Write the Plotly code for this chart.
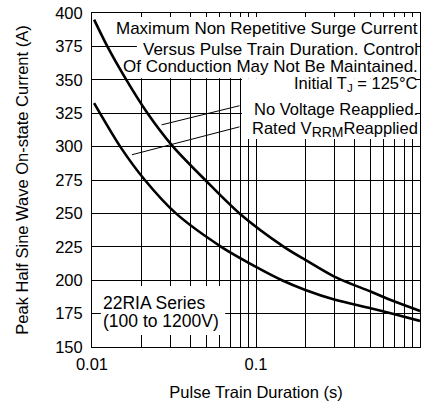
import plotly.graph_objects as go

# ---- data ----
pulse_no_voltage = [0.0103, 0.0124, 0.0162, 0.0218, 0.0312, 0.049, 0.0793, 0.148, 0.2, 0.3, 0.5, 0.7, 1.0]
current_no_voltage = [395, 375, 350, 325, 300, 275, 250, 225, 215.2, 202.7, 191.5, 184, 177]

pulse_rated_vrrm = [0.0103, 0.01486, 0.021, 0.0325, 0.0614, 0.1, 0.144, 0.2, 0.3, 0.5, 0.7, 1.0]
current_rated_vrrm = [332.5, 300, 275, 250, 225, 210, 200, 192.7, 185.5, 179, 174.5, 169.5]

# leader lines from labels to curves
leader_nv_x = [0.0266, 0.0793]
leader_nv_y = [316.3, 330.6]
leader_rv_x = [0.0175, 0.0793]
leader_rv_y = [293.9, 314.8]

x_tick_vals = [0.01, 0.1, 1]
x_tick_text = ["0.01", "0.1", "1"]
x_minor_vals = [m * d for d in (0.01, 0.1) for m in range(2, 10)]
y_tick_vals = [150, 175, 200, 225, 250, 275, 300, 325, 350, 375, 400]

title_lines = [
    "Maximum Non Repetitive Surge Current",
    "Versus Pulse Train Duration. Control",
    "Of Conduction May Not Be Maintained.",
]
initial_tj = "Initial T<sub>J</sub> = 125°C"
label_nv = "No Voltage Reapplied."
label_rv = "Rated V<sub><span style=\"font-size:14px\">RRM</span></sub>Reapplied"
series_lines = ["22RIA Series", "(100 to 1200V)"]

FONT = "Liberation Sans, Arial, sans-serif"

fig = go.Figure()
for xs, ys in [(pulse_no_voltage, current_no_voltage), (pulse_rated_vrrm, current_rated_vrrm)]:
    fig.add_trace(go.Scatter(x=xs, y=ys, mode="lines",
                             line=dict(color="black", width=2.6, shape="spline", smoothing=0.8),
                             showlegend=False, hoverinfo="skip"))
for xs, ys in [(leader_nv_x, leader_nv_y), (leader_rv_x, leader_rv_y)]:
    fig.add_trace(go.Scatter(x=xs, y=ys, mode="lines",
                             line=dict(color="black", width=1), showlegend=False, hoverinfo="skip"))

# white areas hiding the grid behind the text blocks (paper coordinates)
for x0, x1, y0, y1 in [(0.137, 0.988, 0.805, 0.988),
                       (0.457, 0.988, 0.623, 0.805),
                       (0.027, 0.406, 0.036, 0.183)]:
    fig.add_shape(type="rect", xref="paper", yref="paper", x0=x0, x1=x1, y0=y0, y1=y1,
                  fillcolor="white", line=dict(width=0), layer="above")

ann_font = dict(family=FONT, size=17, color="black")
for txt, yy in zip(title_lines, [0.955, 0.892, 0.840]):
    fig.add_annotation(text=txt, xref="paper", yref="paper", x=1.0, y=yy,
                       xanchor="right", yanchor="middle", showarrow=False, font=ann_font)
for txt, yy in [(initial_tj, 0.787), (label_nv, 0.714), (label_rv, 0.650)]:
    fig.add_annotation(text=txt, xref="paper", yref="paper", x=1.0, y=yy,
                       xanchor="right", yanchor="middle", showarrow=False,
                       font=dict(family=FONT, size=16.5, color="black"))
for txt, yy in zip(series_lines, [0.132, 0.077]):
    fig.add_annotation(text=txt, xref="paper", yref="paper", x=0.026, y=yy,
                       xanchor="left", yanchor="middle", showarrow=False,
                       font=dict(family=FONT, size=17.5, color="black"))

axis_font = dict(family=FONT, size=16.5, color="black")
fig.update_xaxes(type="log", range=[-2, 0], tickvals=x_tick_vals, ticktext=x_tick_text,
                 showgrid=True, gridcolor="black", gridwidth=1,
                 showline=True, linecolor="black", linewidth=1, mirror="ticks",
                 ticks="inside", ticklen=4, tickcolor="black", tickfont=axis_font,
                 ticklabelstandoff=2,
                 minor=dict(tickvals=x_minor_vals, showgrid=True, gridcolor="black", gridwidth=1,
                            ticks="inside", ticklen=4, tickcolor="black"),
                 title=dict(text="Pulse Train Duration (s)", font=axis_font, standoff=14),
                 zeroline=False)
fig.update_yaxes(range=[150, 400], tickvals=y_tick_vals,
                 showgrid=True, gridcolor="black", gridwidth=1,
                 showline=True, linecolor="black", linewidth=1, mirror="ticks",
                 ticks="inside", ticklen=4, tickcolor="black", tickfont=axis_font,
                 ticklabelstandoff=5,
                 title=dict(text="Peak Half Sine Wave On-state Current (A)", font=axis_font, standoff=22),
                 zeroline=False)

fig.update_layout(width=421, height=402, margin=dict(l=92, r=1, t=13, b=55, autoexpand=False),
                  paper_bgcolor="white", plot_bgcolor="white", font=dict(family=FONT, color="black"))
fig.write_html("out.html", config={"displayModeBar": False},
               post_script="document.body.style.margin='0';document.body.style.overflow='hidden';")
